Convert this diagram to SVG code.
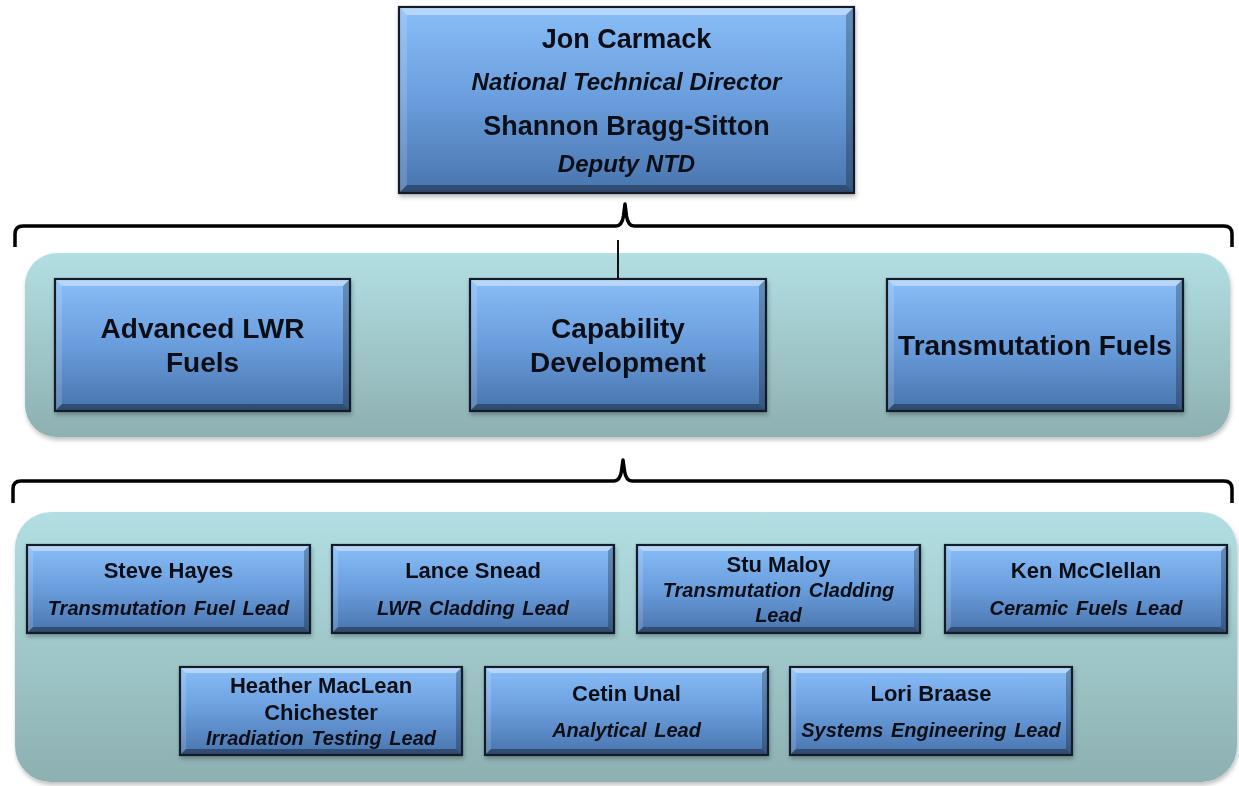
<svg xmlns="http://www.w3.org/2000/svg" width="1239" height="786" viewBox="0 0 1239 786">
<defs>
<linearGradient id="boxg" x1="0" y1="0" x2="0" y2="1">
<stop offset="0" stop-color="#88bef8"/>
<stop offset="0.5" stop-color="#6a9ddc"/>
<stop offset="1" stop-color="#4874ad"/>
</linearGradient>
<linearGradient id="panelg" x1="0" y1="0" x2="0" y2="1">
<stop offset="0" stop-color="#b2dfe3"/>
<stop offset="1" stop-color="#8db0b1"/>
</linearGradient>
<filter id="sh" x="-5%" y="-5%" width="110%" height="115%">
<feDropShadow dx="1" dy="3" stdDeviation="2" flood-color="#000" flood-opacity="0.25"/>
</filter>
</defs>
<style>
.box{fill:url(#boxg);stroke:#141d28;stroke-width:2.2}
.hi{fill:#ffffff;opacity:0.4}
.hl{fill:#ffffff;opacity:0.15}
.dk{fill:#000000;opacity:0.35}
.dr{fill:#000000;opacity:0.25}
.panel{fill:url(#panelg);filter:url(#sh)}
.brace{fill:none;stroke:#000;stroke-width:3.5;stroke-linejoin:round}
text{font-family:"Liberation Sans",Arial,sans-serif;font-weight:bold;fill:#0a1018;text-anchor:middle}
.it{font-style:italic}
.t1{font-size:27px}
.t2{font-size:24px}
.mid{font-size:28px}
.nm{font-size:22px}
.rl{font-size:20px;word-spacing:2px}
</style>
<rect width="1239" height="786" fill="#ffffff"/>

<g id="panels">
<rect class="panel" x="25" y="253" width="1205" height="184" rx="32"/>
<rect class="panel" x="15" y="512" width="1222" height="270" rx="36"/>
</g>

<g id="connectors">
<path class="brace" d="M15,247 L15,234 Q15,226 23,226 L616,226 Q622,226 623.5,216 L625,204 L626.5,216 Q628,226 634,226 L1224,226 Q1232,226 1232,234 L1232,247"/>
<line x1="618" y1="240" x2="618" y2="279" stroke="#111" stroke-width="2"/>
<path class="brace" d="M13,503 L13,489 Q13,481 21,481 L614,481 Q620,481 621.5,471 L623,460 L624.5,471 Q626,481 632,481 L1224,481 Q1232,481 1232,489 L1232,503"/>
</g>

<g id="n-top" filter="url(#sh)">
<rect class="box" x="399" y="7" width="455" height="186"/>
<polygon class="hi" points="400,8 853,8 846,15 407,15"/>
<polygon class="hl" points="400,8 407,15 407,185 400,192"/>
<polygon class="dr" points="853,8 853,192 846,185 846,15"/>
<polygon class="dk" points="400,192 853,192 846,185 407,185"/>
<text class="t1" x="626.5" y="48">Jon Carmack</text>
<text class="t2 it" x="626.5" y="90">National Technical Director</text>
<text class="t1" x="626.5" y="135">Shannon Bragg-Sitton</text>
<text class="t2 it" x="626.5" y="172">Deputy NTD</text>
</g>

<g id="n-lwr" filter="url(#sh)">
<rect class="box" x="55" y="279" width="295" height="132"/>
<polygon class="hi" points="56,280 349,280 343,286 62,286"/>
<polygon class="hl" points="56,280 62,286 62,404 56,410"/>
<polygon class="dr" points="349,280 349,410 343,404 343,286"/>
<polygon class="dk" points="56,410 349,410 343,404 62,404"/>
<text class="mid" x="202.5" y="338">Advanced LWR</text>
<text class="mid" x="202.5" y="372">Fuels</text>
</g>

<g id="n-cap" filter="url(#sh)">
<rect class="box" x="470" y="279" width="296" height="132"/>
<polygon class="hi" points="471,280 765,280 759,286 477,286"/>
<polygon class="hl" points="471,280 477,286 477,404 471,410"/>
<polygon class="dr" points="765,280 765,410 759,404 759,286"/>
<polygon class="dk" points="471,410 765,410 759,404 477,404"/>
<text class="mid" x="618" y="338">Capability</text>
<text class="mid" x="618" y="372">Development</text>
</g>

<g id="n-trf" filter="url(#sh)">
<rect class="box" x="887" y="279" width="296" height="132"/>
<polygon class="hi" points="888,280 1182,280 1176,286 894,286"/>
<polygon class="hl" points="888,280 894,286 894,404 888,410"/>
<polygon class="dr" points="1182,280 1182,410 1176,404 1176,286"/>
<polygon class="dk" points="888,410 1182,410 1176,404 894,404"/>
<text class="mid" x="1035" y="355">Transmutation Fuels</text>
</g>

<g id="n-hayes" filter="url(#sh)">
<rect class="box" x="27" y="545" width="283" height="88"/>
<polygon class="hi" points="28,546 309,546 304,551 33,551"/>
<polygon class="hl" points="28,546 33,551 33,627 28,632"/>
<polygon class="dr" points="309,546 309,632 304,627 304,551"/>
<polygon class="dk" points="28,632 309,632 304,627 33,627"/>
<text class="nm" x="168.5" y="578">Steve Hayes</text>
<text class="rl it" x="168.5" y="615">Transmutation Fuel Lead</text>
</g>

<g id="n-snead" filter="url(#sh)">
<rect class="box" x="332" y="545" width="282" height="88"/>
<polygon class="hi" points="333,546 613,546 608,551 338,551"/>
<polygon class="hl" points="333,546 338,551 338,627 333,632"/>
<polygon class="dr" points="613,546 613,632 608,627 608,551"/>
<polygon class="dk" points="333,632 613,632 608,627 338,627"/>
<text class="nm" x="473" y="578">Lance Snead</text>
<text class="rl it" x="473" y="615">LWR Cladding Lead</text>
</g>

<g id="n-maloy" filter="url(#sh)">
<rect class="box" x="637" y="545" width="283" height="88"/>
<polygon class="hi" points="638,546 919,546 914,551 643,551"/>
<polygon class="hl" points="638,546 643,551 643,627 638,632"/>
<polygon class="dr" points="919,546 919,632 914,627 914,551"/>
<polygon class="dk" points="638,632 919,632 914,627 643,627"/>
<text class="nm" x="778.5" y="572">Stu Maloy</text>
<text class="rl it" x="778.5" y="597">Transmutation Cladding</text>
<text class="rl it" x="778.5" y="622">Lead</text>
</g>

<g id="n-mcclellan" filter="url(#sh)">
<rect class="box" x="945" y="545" width="282" height="88"/>
<polygon class="hi" points="946,546 1226,546 1221,551 951,551"/>
<polygon class="hl" points="946,546 951,551 951,627 946,632"/>
<polygon class="dr" points="1226,546 1226,632 1221,627 1221,551"/>
<polygon class="dk" points="946,632 1226,632 1221,627 951,627"/>
<text class="nm" x="1086" y="578">Ken McClellan</text>
<text class="rl it" x="1086" y="615">Ceramic Fuels Lead</text>
</g>

<g id="n-maclean" filter="url(#sh)">
<rect class="box" x="180" y="667" width="282" height="88"/>
<polygon class="hi" points="181,668 461,668 456,673 186,673"/>
<polygon class="hl" points="181,668 186,673 186,749 181,754"/>
<polygon class="dr" points="461,668 461,754 456,749 456,673"/>
<polygon class="dk" points="181,754 461,754 456,749 186,749"/>
<text class="nm" x="321" y="693">Heather MacLean</text>
<text class="nm" x="321" y="720">Chichester</text>
<text class="rl it" x="321" y="745">Irradiation Testing Lead</text>
</g>

<g id="n-unal" filter="url(#sh)">
<rect class="box" x="485" y="667" width="283" height="88"/>
<polygon class="hi" points="486,668 767,668 762,673 491,673"/>
<polygon class="hl" points="486,668 491,673 491,749 486,754"/>
<polygon class="dr" points="767,668 767,754 762,749 762,673"/>
<polygon class="dk" points="486,754 767,754 762,749 491,749"/>
<text class="nm" x="626.5" y="701">Cetin Unal</text>
<text class="rl it" x="626.5" y="737">Analytical Lead</text>
</g>

<g id="n-braase" filter="url(#sh)">
<rect class="box" x="790" y="667" width="282" height="88"/>
<polygon class="hi" points="791,668 1071,668 1066,673 796,673"/>
<polygon class="hl" points="791,668 796,673 796,749 791,754"/>
<polygon class="dr" points="1071,668 1071,754 1066,749 1066,673"/>
<polygon class="dk" points="791,754 1071,754 1066,749 796,749"/>
<text class="nm" x="931" y="701">Lori Braase</text>
<text class="rl it" x="931" y="737">Systems Engineering Lead</text>
</g>
</svg>
